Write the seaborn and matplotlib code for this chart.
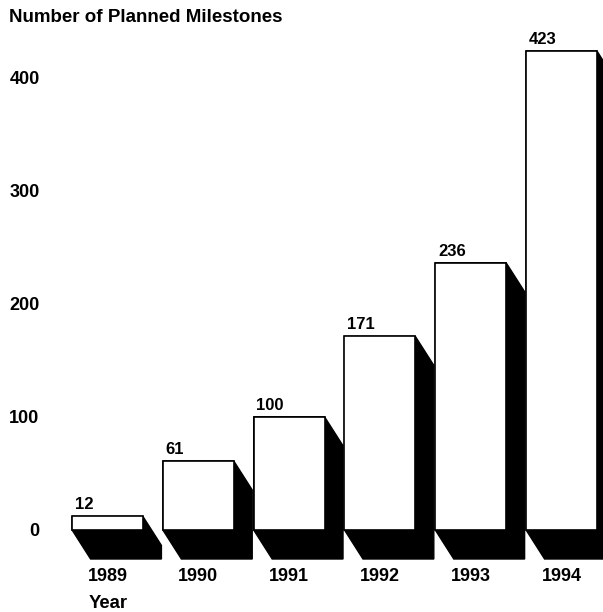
import matplotlib
matplotlib.use("Agg")
import matplotlib.pyplot as plt
from matplotlib.patches import Polygon
import seaborn as sns
import numpy as np

years = ["1989", "1990", "1991", "1992", "1993", "1994"]
milestones = [12, 61, 100, 171, 236, 423]
yticks = [0, 100, 200, 300, 400]
title = "Number of Planned Milestones"
xlabel = "Year"

sns.set_theme(style="white")
plt.rcParams["font.family"] = ["Liberation Sans", "DejaVu Sans"]
plt.rcParams["font.weight"] = "bold"
plt.rcParams["text.color"] = "black"
plt.rcParams["xtick.color"] = "black"
plt.rcParams["ytick.color"] = "black"

W, H = 603, 612
fig = plt.figure(figsize=(W / 100, H / 100), dpi=100)
fig.patch.set_facecolor("white")

# axes placement in pixels
ax_left, ax_right, ax_top, ax_bottom = 50, 603, 30, 562
ax = fig.add_axes([ax_left / W, (H - ax_bottom) / H,
                   (ax_right - ax_left) / W, (ax_bottom - ax_top) / H])
ax.set_facecolor("white")

sns.barplot(x=years, y=milestones, color="white", saturation=1,
            edgecolor="black", linewidth=1.2, width=0.78, ax=ax, zorder=2)

xpx = 90.8
ypx = 1.1325
ax.set_xlim(-(107.5 - ax_left) / xpx, (ax_right - 107.5) / xpx)
ax.set_ylim(-(ax_bottom - 530) / ypx, (530 - ax_top) / ypx)

# 3D-style shadow behind each bar
dx_px, dy_px = 18.5, -29
inv = ax.transData.inverted()
for p in list(ax.patches):
    x0, y0 = p.get_x(), p.get_y()
    x1, y1 = x0 + p.get_width(), y0 + p.get_height()
    pts = np.array([(x0, y1), (x1, y1), (x1, y1), (x1, y0), (x0, y0), (x0, y0)])
    disp = ax.transData.transform(pts)
    shift = np.array([0, 0, 1, 1, 1, 0])[:, None] * np.array([dx_px, dy_px])
    disp = disp + shift
    poly = Polygon(inv.transform(disp), closed=True, facecolor="black",
                   edgecolor="black", zorder=1, clip_on=True)
    ax.add_patch(poly)

for p, v in zip(ax.patches, milestones):
    ax.annotate(str(v), (p.get_x(), p.get_y() + p.get_height()),
                xytext=(2, 3), textcoords="offset points",
                ha="left", va="bottom", fontsize=12, fontweight="bold",
                color="black")

ax.set_yticks(yticks)
ax.set_yticklabels([str(t) for t in yticks], fontsize=13, fontweight="bold",
                   color="black")
ax.set_xticks(range(len(years)))
ax.set_xticklabels(years, fontsize=13, fontweight="bold", color="black")
ax.tick_params(axis="y", length=0, pad=7.5)
ax.tick_params(axis="x", length=0, pad=4.5)
ax.set_xlabel("")
ax.set_ylabel("")
for s in ax.spines.values():
    s.set_visible(False)
ax.grid(False)

fig.text(9 / W, 1 - 18 / H, title, ha="left", va="center",
         fontsize=13.5, fontweight="bold", color="black")
fig.text(89 / W, 8 / H, xlabel, ha="left", va="center",
         fontsize=13.3, fontweight="bold", color="black")

fig.savefig("out.png", dpi=100, facecolor="white")
